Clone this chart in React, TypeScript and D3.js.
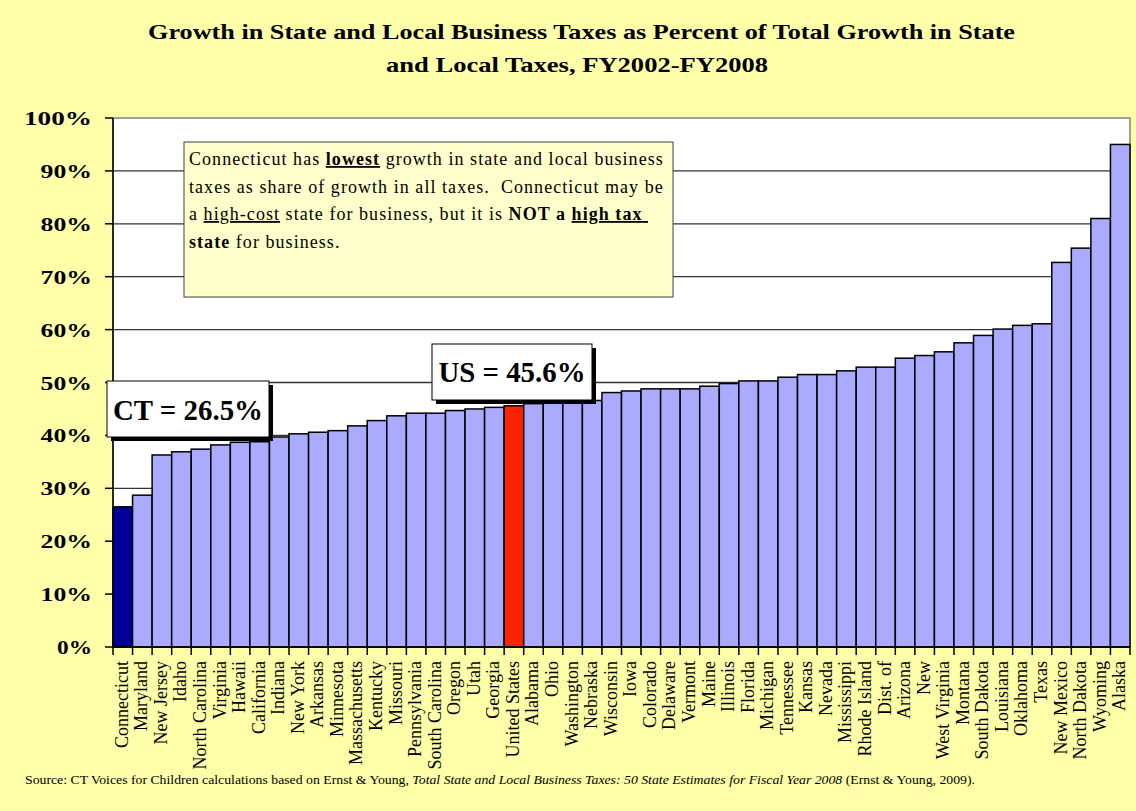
import React from 'react';
import * as d3 from 'd3';

const states = [
  'Connecticut', 'Maryland', 'New Jersey', 'Idaho', 'North Carolina', 'Virginia', 'Hawaii',
  'California', 'Indiana', 'New York', 'Arkansas', 'Minnesota', 'Massachusetts', 'Kentucky',
  'Missouri', 'Pennsylvania', 'South Carolina', 'Oregon', 'Utah', 'Georgia', 'United States',
  'Alabama', 'Ohio', 'Washington', 'Nebraska', 'Wisconsin', 'Iowa', 'Colorado', 'Delaware',
  'Vermont', 'Maine', 'Illinois', 'Florida', 'Michigan', 'Tennessee', 'Kansas', 'Nevada',
  'Mississippi', 'Rhode Island', 'Dist. of', 'Arizona', 'New', 'West Virginia', 'Montana',
  'South Dakota', 'Louisiana', 'Oklahoma', 'Texas', 'New Mexico', 'North Dakota', 'Wyoming', 'Alaska',
];

const shares = [
  26.5, 28.7, 36.3, 36.9, 37.4, 38.2, 38.7,
  38.8, 39.7, 40.3, 40.6, 40.9, 41.8, 42.8,
  43.7, 44.2, 44.2, 44.7, 45.0, 45.3, 45.6,
  46.0, 46.1, 46.2, 46.6, 48.1, 48.4, 48.8, 48.8,
  48.8, 49.3, 49.8, 50.3, 50.3, 51.0, 51.5, 51.5,
  52.2, 52.9, 52.9, 54.6, 55.1, 55.8, 57.5,
  58.9, 60.1, 60.8, 61.1, 72.7, 75.4, 81.0, 95.0,
];

const yTicks = [0, 10, 20, 30, 40, 50, 60, 70, 80, 90, 100];

const titleLines = [
  'Growth in State and Local Business Taxes as Percent of Total Growth in State',
  'and Local Taxes, FY2002-FY2008',
];

const ctLabel = 'CT = 26.5%';
const usLabel = 'US = 45.6%';

export default function App() {
  const W = 1136;
  const H = 811;
  const left = 113, right = 1130, top = 118, bottom = 647;
  const serif = '"Liberation Serif", "Times New Roman", serif';

  const x = d3.scaleBand<string>().domain(states).range([left, right]).paddingInner(0).paddingOuter(0);
  const y = d3.scaleLinear().domain([0, 100]).range([bottom, top]);
  const bw = x.bandwidth();

  const barColor = (s: string) =>
    s === 'Connecticut' ? '#000099' : s === 'United States' ? '#ff2200' : '#aaaaff';

  const boxFont = 18;
  const ls = 1.05;

  return (
    <svg width={W} height={H} style={{ position: 'absolute', left: 0, top: 0 }} fontFamily={serif}>
      <rect x={0} y={0} width={W} height={H} fill="#ffffaa" />
      {/* title */}
      <text x={581.5} y={39} textAnchor="middle" fontSize={21} fontWeight="bold" textLength={867} lengthAdjust="spacingAndGlyphs">{titleLines[0]}</text>
      <text x={577} y={72} textAnchor="middle" fontSize={21} fontWeight="bold" textLength={382} lengthAdjust="spacingAndGlyphs">{titleLines[1]}</text>

      {/* plot area */}
      <rect x={left} y={top} width={right - left} height={bottom - top} fill="#ffffff" stroke="#808080" strokeWidth={1.5} />
      {yTicks.filter(t => t > 0 && t < 100).map(t => (
        <line key={t} x1={left} x2={right} y1={y(t)} y2={y(t)} stroke="#333333" strokeWidth={1.3} />
      ))}

      {/* bars */}
      {states.map((s, i) => (
        <rect key={s} x={x(s)!} y={y(shares[i])} width={bw} height={bottom - y(shares[i])}
          fill={barColor(s)} stroke="#000000" strokeWidth={1.5} />
      ))}

      {/* axes */}
      <line x1={left} x2={left} y1={top} y2={bottom} stroke="#000" strokeWidth={1.5} />
      {yTicks.map(t => (
        <g key={t}>
          <line x1={left - 8} x2={left} y1={y(t)} y2={y(t)} stroke="#000" strokeWidth={1.5} />
          <text x={92} y={y(t) + 7} textAnchor="end" fontSize={19.5} fontWeight="bold"
            textLength={(String(t).length) * 16.5 + 18.5} lengthAdjust="spacingAndGlyphs">{t + '%'}</text>
        </g>
      ))}
      <line x1={left} x2={right} y1={bottom} y2={bottom} stroke="#000" strokeWidth={1.5} />
      {states.map(s => (
        <line key={'t' + s} x1={x(s)!} x2={x(s)!} y1={bottom} y2={bottom + 8} stroke="#000" strokeWidth={1.5} />
      ))}
      <line x1={right} x2={right} y1={bottom} y2={bottom + 8} stroke="#000" strokeWidth={1.5} />
      {states.map(s => {
        const cx = x(s)! + bw / 2 + 5;
        return (
          <text key={'l' + s} transform={`translate(${cx},${661}) rotate(-90)`} textAnchor="end" fontSize={18}>{s}</text>
        );
      })}

      {/* text box */}
      <rect x={184} y={142} width={489} height={155} fill="#ffffcc" stroke="#404040" strokeWidth={1} />
      <text x={189} y={165} fontSize={boxFont} letterSpacing={ls} xmlSpace="preserve">
        <tspan>Connecticut has </tspan>
        <tspan fontWeight="bold" textDecoration="underline">lowest</tspan>
        <tspan> growth in state and local business</tspan>
      </text>
      <text x={189} y={192.5} fontSize={boxFont} letterSpacing={ls} xmlSpace="preserve">
        taxes as share of growth in all taxes.  Connecticut may be
      </text>
      <text x={189} y={220} fontSize={boxFont} letterSpacing={ls} xmlSpace="preserve">
        <tspan>a </tspan>
        <tspan textDecoration="underline">high-cost</tspan>
        <tspan> state for business, but it is </tspan>
        <tspan fontWeight="bold">NOT a </tspan>
        <tspan fontWeight="bold" textDecoration="underline">high tax </tspan>
      </text>
      <text x={189} y={247.5} fontSize={boxFont} letterSpacing={ls} xmlSpace="preserve">
        <tspan fontWeight="bold">state</tspan>
        <tspan> for business.</tspan>
      </text>

      {/* CT callout */}
      <rect x={111} y={385} width={162} height={56} fill="#000" />
      <rect x={107} y={381} width={162} height={56} fill="#fff" stroke="#000" strokeWidth={1} />
      <text x={188} y={420} textAnchor="middle" fontSize={29} fontWeight="bold" textLength={150} lengthAdjust="spacingAndGlyphs">{ctLabel}</text>

      {/* US callout */}
      <rect x={436} y={348} width={160} height={56} fill="#000" />
      <rect x={432} y={344} width={160} height={56} fill="#fff" stroke="#000" strokeWidth={1} />
      <text x={512} y={382} textAnchor="middle" fontSize={29} fontWeight="bold" textLength={147} lengthAdjust="spacingAndGlyphs">{usLabel}</text>

      {/* source */}
      <text x={25} y={784} fontSize={12} textLength={950} lengthAdjust="spacingAndGlyphs">
        <tspan>Source: CT Voices for Children calculations based on Ernst &amp; Young, </tspan>
        <tspan fontStyle="italic">Total State and Local Business Taxes: 50 State Estimates for Fiscal Year 2008</tspan>
        <tspan> (Ernst &amp; Young, 2009).</tspan>
      </text>
    </svg>
  );
}
